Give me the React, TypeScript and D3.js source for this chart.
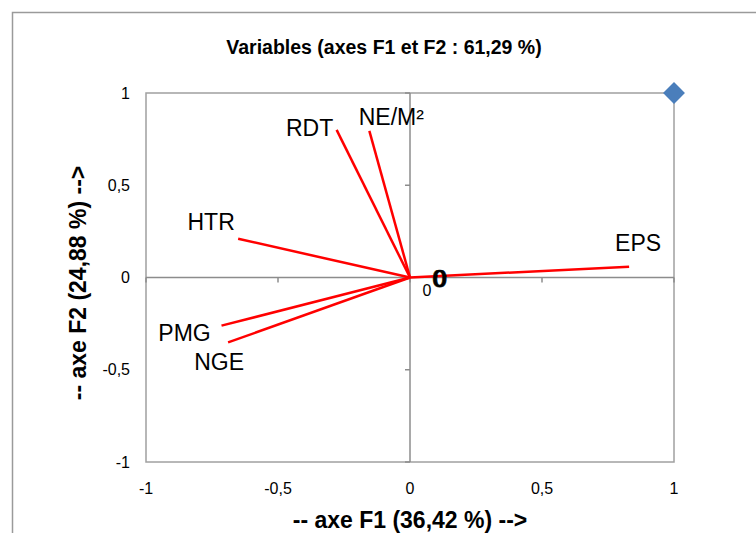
import React, { useEffect, useRef } from "react";
import * as d3 from "d3";

// PCA variable loadings on F1 / F2
const variables = ["EPS", "RDT", "NE/M²", "HTR", "PMG", "NGE"];
const f1 = [0.83, -0.278, -0.154, -0.651, -0.714, -0.689];
const f2 = [0.058, 0.8, 0.795, 0.21, -0.261, -0.352];

const ticks = [-1, -0.5, 0, 0.5, 1];
const tickLabels = ["-1", "-0,5", "0", "0,5", "1"];

const title = "Variables (axes F1 et F2 : 61,29 %)";
const xTitle = "-- axe F1 (36,42 %) -->";
const yTitle = "-- axe F2 (24,88 %) -->";

// corner point (1, 1) of the hidden scaling series
const cornerX = [1];
const cornerY = [1];

const width = 756;
const height = 533;
const font = "'Liberation Sans Narrow', 'Liberation Sans', Arial, sans-serif";

const drawChart = (el: SVGSVGElement) => {
  const svg = d3.select(el);
  svg.selectAll("*").remove();

  const x = d3.scaleLinear().domain([-1, 1]).range([146, 674]);
  const y = d3.scaleLinear().domain([-1, 1]).range([462, 93]);

  // outer chart frame (runs off the picture right and bottom)
  svg
    .append("rect")
    .attr("x", 12.5)
    .attr("y", 12.5)
    .attr("width", 800)
    .attr("height", 600)
    .attr("fill", "white")
    .attr("stroke", "#9a9a9a")
    .attr("stroke-width", 1.5);

  svg
    .append("text")
    .attr("x", 384)
    .attr("y", 54)
    .attr("text-anchor", "middle")
    .attr("font-family", font)
    .attr("font-weight", "bold")
    .attr("font-size", 19.5)
    .text(title);

  // plot box
  svg
    .append("rect")
    .attr("x", x(-1))
    .attr("y", y(1))
    .attr("width", x(1) - x(-1))
    .attr("height", y(-1) - y(1))
    .attr("fill", "none")
    .attr("stroke", "#a0a0a0")
    .attr("stroke-width", 1.5);

  // axes through the origin
  const axisG = svg.append("g").attr("stroke", "#8c8c8c").attr("stroke-width", 1.5);
  axisG.append("line").attr("x1", x(-1)).attr("x2", x(1)).attr("y1", y(0)).attr("y2", y(0));
  axisG.append("line").attr("x1", x(0)).attr("x2", x(0)).attr("y1", y(-1)).attr("y2", y(1));

  // tick marks
  ticks.forEach((t) => {
    axisG.append("line").attr("x1", x(t)).attr("x2", x(t)).attr("y1", y(0)).attr("y2", y(0) + 5);
    axisG.append("line").attr("x1", x(0) - 5).attr("x2", x(0)).attr("y1", y(t)).attr("y2", y(t));
  });

  // tick labels
  const tl = svg.append("g").attr("font-family", font).attr("font-size", 16).attr("fill", "#000");
  ticks.forEach((t, i) => {
    tl.append("text")
      .attr("x", x(t))
      .attr("y", 488)
      .attr("dy", "0.35em")
      .attr("text-anchor", "middle")
      .text(tickLabels[i]);
    tl.append("text")
      .attr("x", 130)
      .attr("y", y(t))
      .attr("dy", "0.35em")
      .attr("text-anchor", "end")
      .text(tickLabels[i]);
  });

  // axis titles
  svg
    .append("text")
    .attr("x", x(0))
    .attr("y", 520)
    .attr("dy", "0.35em")
    .attr("text-anchor", "middle")
    .attr("font-family", font)
    .attr("font-weight", "bold")
    .attr("font-size", 23)
    .text(xTitle);

  svg
    .append("text")
    .attr("transform", "translate(78,283) rotate(-90)")
    .attr("dy", "0.35em")
    .attr("text-anchor", "middle")
    .attr("font-family", font)
    .attr("font-weight", "bold")
    .attr("font-size", 23)
    .text(yTitle);

  // loading vectors
  const vec = svg.append("g");
  variables.forEach((v, i) => {
    vec
      .append("line")
      .attr("x1", x(0))
      .attr("y1", y(0))
      .attr("x2", x(f1[i]))
      .attr("y2", y(f2[i]))
      .attr("stroke", "#ff0000")
      .attr("stroke-width", 2.5);
  });

  // label nudges (pixels) relative to each arrow tip
  const nudge = [
    [9, -24],
    [-27, -2],
    [22, -14],
    [-27, -17],
    [-37, 7],
    [-9, 20],
  ];
  variables.forEach((v, i) => {
    vec
      .append("text")
      .attr("x", x(f1[i]) + nudge[i][0])
      .attr("y", y(f2[i]) + nudge[i][1])
      .attr("dy", "0.35em")
      .attr("text-anchor", "middle")
      .attr("font-family", font)
      .attr("font-size", 23)
      .text(v);
  });

  // overlapping zero labels near the origin
  [0, 1.5].forEach((d) => {
    svg
      .append("text")
      .attr("x", 439 + d)
      .attr("y", 279)
      .attr("dy", "0.35em")
      .attr("text-anchor", "middle")
      .attr("font-family", font)
      .attr("font-size", 24)
      .attr("stroke", "#000")
      .attr("stroke-width", 0.6)
      .text("0");
  });
  svg
    .append("text")
    .attr("x", 427)
    .attr("y", 290)
    .attr("dy", "0.35em")
    .attr("text-anchor", "middle")
    .attr("font-family", font)
    .attr("font-size", 16)
    .text("0");

  // blue diamond marker
  svg
    .selectAll("path.corner")
    .data(cornerX)
    .enter()
    .append("path")
    .attr("class", "corner")
    .attr("d", d3.symbol().type(d3.symbolSquare).size(240)())
    .attr("transform", (d, i) => "translate(" + x(d) + "," + y(cornerY[i]) + ") rotate(45)")
    .attr("fill", "#4a7ebb");
};

const App = () => {
  const ref = useRef<SVGSVGElement>(null);
  useEffect(() => {
    if (ref.current) drawChart(ref.current);
  }, []);
  return (
    <svg
      ref={ref}
      width={width}
      height={height}
      style={{ position: "absolute", left: 0, top: 0, background: "white" }}
    />
  );
};

export default App;
